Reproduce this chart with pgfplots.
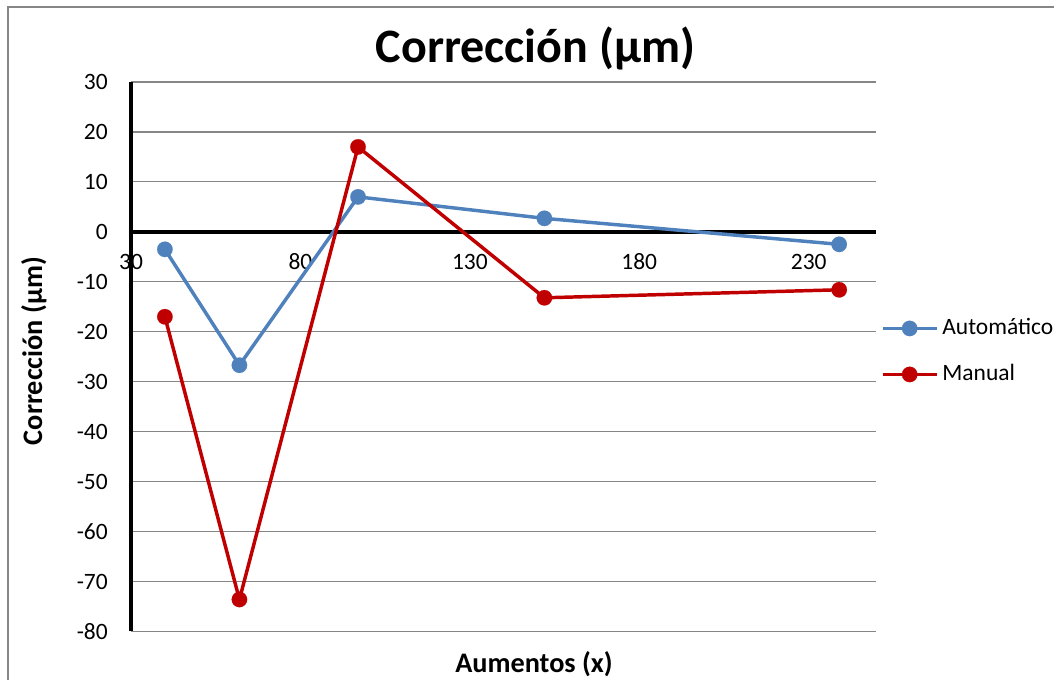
\documentclass[border=0pt]{standalone}
\usepackage{pgfplots}
\pgfplotsset{compat=1.18}
\usepackage{fontspec}
\setmainfont{Carlito}
\definecolor{autoblue}{HTML}{4F81BD}
\definecolor{manred}{HTML}{C00000}
\definecolor{gridgray}{HTML}{868686}
\begin{document}
\begin{tikzpicture}
\useasboundingbox (0,0) rectangle (790.5pt,510pt);
\draw[gridgray, line width=1.1pt] (6pt,-10pt) -- (6pt,504.75pt) -- (800pt,504.75pt);
\begin{axis}[
  at={(98.25pt,36.4pt)}, anchor=south west,
  width=559.1pt, height=412.1pt, scale only axis,
  xmin=30, xmax=250, ymin=-80, ymax=30,
  axis x line=middle, axis y line=left,
  axis line style={-, line width=3pt, black},
  xtick={30,80,130,180,230}, xticklabels={30,80,130,180,230},
  ytick={-80,-70,...,30},
  yticklabels={-80,-70,-60,-50,-40,-30,-20,-10,0,10,20,30},
  major tick length=0pt,
  hide obscured x ticks=false, hide obscured y ticks=false,
  ymajorgrids, grid style={gridgray, line width=0.9pt},
  tick label style={font=\fontsize{17.6}{20}\selectfont, inner sep=0pt},
  xticklabel style={anchor=center, yshift=-22.5pt},
  yticklabel style={anchor=east, xshift=-17.25pt},
  clip=false,
  legend style={draw=none, fill=none, at={(axis description cs:1.006,0.5096)}, anchor=west,
    inner sep=0pt, outer sep=0pt, font=\fontsize{17.6}{20}\selectfont,
    row sep=18pt, column sep=3pt, nodes={inner sep=0pt, text height=12.5pt, text depth=4pt}},
  legend cell align=left,
  legend image code/.code={\draw[#1, mark repeat=2, mark phase=2] plot coordinates {(0pt,0pt) (20.25pt,0pt) (40.5pt,0pt)};},
]
\addplot[autoblue, line width=2.6pt, mark=*, mark size=5.8pt, mark options={solid, fill=autoblue, draw=autoblue, line width=0.1pt}]
  coordinates {(40,-3.5) (62,-26.7) (97,7) (152,2.7) (239,-2.5)};
\addlegendentry{Automático}
\addplot[manred, line width=2.6pt, mark=*, mark size=5.8pt, mark options={solid, fill=manred, draw=manred, line width=0.1pt}]
  coordinates {(40,-17) (62,-73.6) (97,17) (152,-13.2) (239,-11.6)};
\addlegendentry{Manual}
\end{axis}
\node[anchor=base, font=\bfseries\fontsize{36}{40}\selectfont, inner sep=0pt] at (401.6pt,462.75pt) {Corrección (µm)};
\node[anchor=base, font=\bfseries\fontsize{21.2}{24}\selectfont, inner sep=0pt] at (400.5pt,5.25pt) {Aumentos (x)};
\node[anchor=base, rotate=90, font=\bfseries\fontsize{21.2}{24}\selectfont, inner sep=0pt] at (31.5pt,246.75pt) {Corrección (µm)};
\end{tikzpicture}
\end{document}
